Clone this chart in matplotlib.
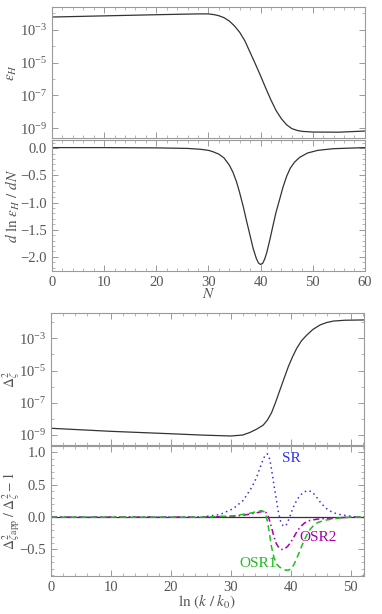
import numpy as np
import matplotlib
matplotlib.use("Agg")
import matplotlib.pyplot as plt
from matplotlib.ticker import MultipleLocator, FixedLocator, NullFormatter

plt.rcParams['font.family'] = ['Liberation Serif', 'DejaVu Serif']
plt.rcParams['mathtext.fontset'] = 'stix'
plt.rcParams['font.size'] = 10.5

# ---- data ----
# top block: epsilon_H vs N (log10 values)
n_eps = [0, 10, 20, 28, 30, 31, 32, 33, 34, 35, 36, 37, 38, 39, 40, 41, 42, 43, 44, 45, 46, 47, 48, 50, 55, 60]
log_eps = [-2.23, -2.16, -2.09, -2.04, -2.04, -2.08, -2.15, -2.27, -2.47, -2.77, -3.16, -3.68, -4.38, -5.08,
           -5.80, -6.56, -7.28, -7.93, -8.42, -8.79, -9.02, -9.13, -9.19, -9.23, -9.24, -9.17]

# d ln eps_H / dN vs N
n_deps = [0, 10, 20, 26, 28.4, 30, 31, 32, 33, 34, 34.7, 35.4, 36, 36.7, 37.3, 38, 38.6, 39.2, 39.6, 40,
          40.4, 40.8, 41.2, 41.8, 42.4, 43, 43.7, 44.3, 45, 45.7, 46.5, 47.5, 49, 51, 54, 60]
dlneps = [0.01, 0.01, 0.005, -0.005, -0.02, -0.04, -0.07, -0.11, -0.18, -0.31, -0.44, -0.62, -0.82, -1.08,
          -1.33, -1.61, -1.85, -2.03, -2.11, -2.14, -2.12, -2.04, -1.92, -1.68, -1.42, -1.17, -0.93, -0.72,
          -0.52, -0.37, -0.26, -0.17, -0.09, -0.04, -0.01, 0.01]

# bottom block: Delta^2_zeta vs ln(k/k0) (log10 values)
k_pow = [0, 10, 20, 25, 30, 32, 33.2, 34.3, 35.4, 36.1, 36.8, 37.5, 38.2, 38.9, 39.6, 40.3, 41.0, 41.8, 42.7,
         43.7, 44.9, 46.0, 47.1, 49.0, 52.2]
log_pow = [-8.58, -8.77, -8.92, -9.00, -9.06, -9.00, -8.84, -8.64, -8.39, -8.08, -7.62, -6.95, -6.21, -5.48,
           -4.76, -4.15, -3.62, -3.15, -2.79, -2.45, -2.17, -2.02, -1.93, -1.88, -1.86]

# relative error of approximations
k_sr = [0, 24.9, 28.2, 30.4, 32.1, 33.5, 34.3, 34.9, 35.4, 35.7, 36.1, 36.4, 36.7, 37.0, 37.3, 37.6, 37.9,
        38.3, 38.7, 39.1, 39.4, 39.9, 40.4, 41.0, 41.5, 42.2, 42.9, 43.6, 44.3, 45.1, 46.0, 47.0, 48.2,
        49.5, 51.0, 52.2]
sr = [0.0, 0.0, 0.04, 0.13, 0.26, 0.46, 0.61, 0.77, 0.89, 0.95, 0.98, 0.93, 0.80, 0.62, 0.44, 0.28, 0.10,
      -0.06, -0.13, -0.14, -0.10, 0.02, 0.15, 0.26, 0.33, 0.39, 0.41, 0.39, 0.31, 0.21, 0.13, 0.07, 0.04,
      0.02, 0.0, 0.0]
k_osr2 = [0, 25, 30, 32.1, 34.0, 34.9, 35.4, 35.8, 36.2, 36.5, 36.8, 37.2, 37.6, 38.0, 38.5, 39.0, 39.5,
          40.0, 40.5, 41.0, 41.5, 42.3, 43.2, 44.5, 46.0, 48.0, 50.0, 52.2]
osr2 = [0.0, 0.0, 0.01, 0.03, 0.06, 0.08, 0.09, 0.08, 0.03, -0.06, -0.16, -0.30, -0.41, -0.47, -0.50,
        -0.49, -0.45, -0.39, -0.31, -0.23, -0.16, -0.09, -0.05, -0.03, -0.02, -0.01, 0.0, 0.0]
k_osr1 = [0, 25, 30.4, 33.2, 34.5, 35.2, 35.6, 35.9, 36.2, 36.5, 36.8, 37.2, 37.6, 38.1, 38.7, 39.2, 39.6,
          40.1, 40.6, 41.3, 42.0, 42.7, 43.3, 44.0, 44.6, 45.6, 46.8, 48.5, 50.0, 52.2]
osr1 = [0.0, 0.0, 0.02, 0.06, 0.09, 0.10, 0.08, 0.02, -0.10, -0.28, -0.46, -0.62, -0.72, -0.77, -0.80,
        -0.82, -0.82, -0.80, -0.72, -0.57, -0.41, -0.27, -0.18, -0.11, -0.08, -0.05, -0.03, -0.01, 0.0, 0.0]

frame_c = '#9a9a9a'
text_c = '#555555'
line_c = '#333333'


def style(ax):
    for s in ax.spines.values():
        s.set_color(frame_c)
        s.set_linewidth(0.8)
    ax.tick_params(which='both', direction='in', top=True, right=True, colors=frame_c,
                   labelcolor=text_c, labelsize=10.5)
    ax.tick_params(which='major', length=4, width=0.7)
    ax.tick_params(which='minor', length=2, width=0.5)
    ax.yaxis.label.set_color(text_c)
    ax.xaxis.label.set_color(text_c)


def minus_fmt(v, p):
    return ('%.1f' % v).replace('-', '\u2212')


fig = plt.figure(figsize=(3.82, 6.14), dpi=100)

ax1 = fig.add_axes([0.136, 0.7748, 0.819, 0.2138])
ax2 = fig.add_axes([0.136, 0.5586, 0.819, 0.2134])
ax3 = fig.add_axes([0.1327, 0.2752, 0.820, 0.2145])
ax4 = fig.add_axes([0.1327, 0.0619, 0.820, 0.2117])

# epsilon_H
ax1.plot(n_eps, 10.0 ** np.array(log_eps), color=line_c, lw=0.9)
ax1.set_yscale('log')
ax1.set_ylim(10 ** -9.61, 10 ** -1.62)
ax1.set_xlim(0, 60)
ax1.yaxis.set_major_locator(FixedLocator([1e-9, 1e-7, 1e-5, 1e-3]))
ax1.yaxis.set_minor_locator(FixedLocator([1e-8, 1e-6, 1e-4, 1e-2]))
ax1.yaxis.set_minor_formatter(NullFormatter())
ax1.xaxis.set_major_locator(MultipleLocator(10))
ax1.xaxis.set_minor_locator(MultipleLocator(2))
ax1.set_xticklabels([])
ax1.set_ylabel(r'$\epsilon_H$', fontsize=11)
ax1.yaxis.set_label_coords(-0.105, 0.5)
style(ax1)

# d ln eps / dN
ax2.plot(n_deps, dlneps, color=line_c, lw=0.9)
ax2.set_xlim(0, 60)
ax2.set_ylim(-2.26, 0.15)
ax2.yaxis.set_major_locator(MultipleLocator(0.5))
ax2.yaxis.set_minor_locator(MultipleLocator(0.1))
ax2.xaxis.set_major_locator(MultipleLocator(10))
ax2.xaxis.set_minor_locator(MultipleLocator(2))
ax2.yaxis.set_major_formatter(plt.FuncFormatter(minus_fmt))
ax2.set_ylabel(r'$d\ \mathrm{ln}\ \epsilon_H\ /\ dN$', fontsize=11)
ax2.yaxis.set_label_coords(-0.095, 0.5)
ax2.set_xlabel(r'$N$', fontsize=11, labelpad=-1)
style(ax2)

# Delta^2_zeta
ax3.plot(k_pow, 10.0 ** np.array(log_pow), color=line_c, lw=0.9)
ax3.set_yscale('log')
ax3.set_ylim(10 ** -9.62, 10 ** -1.45)
ax3.set_xlim(0, 52.2)
ax3.yaxis.set_major_locator(FixedLocator([1e-9, 1e-7, 1e-5, 1e-3]))
ax3.yaxis.set_minor_locator(FixedLocator([1e-8, 1e-6, 1e-4, 1e-2]))
ax3.yaxis.set_minor_formatter(NullFormatter())
ax3.xaxis.set_major_locator(MultipleLocator(10))
ax3.xaxis.set_minor_locator(MultipleLocator(2))
ax3.set_xticklabels([])
ax3.set_ylabel(r'$\Delta^2_\zeta$', fontsize=10)
ax3.yaxis.set_label_coords(-0.09, 0.5)
style(ax3)

# relative errors
ax4.axhline(0, color=line_c, lw=0.9)
ax4.plot(k_sr, sr, color='#3333ee', lw=1.1, linestyle=(0, (1, 2.2)))
ax4.plot(k_osr2, osr2, color='#aa00aa', lw=1.1, linestyle=(0, (4, 2, 1, 2)))
ax4.plot(k_osr1, osr1, color='#22bb22', lw=1.1, linestyle=(0, (4, 2.5)))
ax4.text(38.6, 0.9, 'SR', color='#3333ee', fontsize=11, va='center', ha='left')
ax4.text(41.4, -0.31, 'OSR2', color='#aa00aa', fontsize=11, va='center', ha='left')
ax4.text(31.5, -0.72, 'OSR1', color='#22bb22', fontsize=11, va='center', ha='left')
ax4.set_xlim(0, 52.2)
ax4.set_ylim(-0.91, 1.10)
ax4.yaxis.set_major_locator(MultipleLocator(0.5))
ax4.yaxis.set_minor_locator(MultipleLocator(0.1))
ax4.xaxis.set_major_locator(MultipleLocator(10))
ax4.xaxis.set_minor_locator(MultipleLocator(2))
ax4.yaxis.set_major_formatter(plt.FuncFormatter(minus_fmt))
ax4.set_ylabel(r'$\Delta^2_{\zeta\,\mathrm{app}}\ /\ \Delta^2_\zeta - 1$', fontsize=10)
ax4.yaxis.set_label_coords(-0.09, 0.5)
ax4.set_xlabel(r'$\mathrm{ln}\ (k\ /\ k_0)$', fontsize=11, labelpad=-1)
style(ax4)

fig.savefig('out.png', dpi=100)
